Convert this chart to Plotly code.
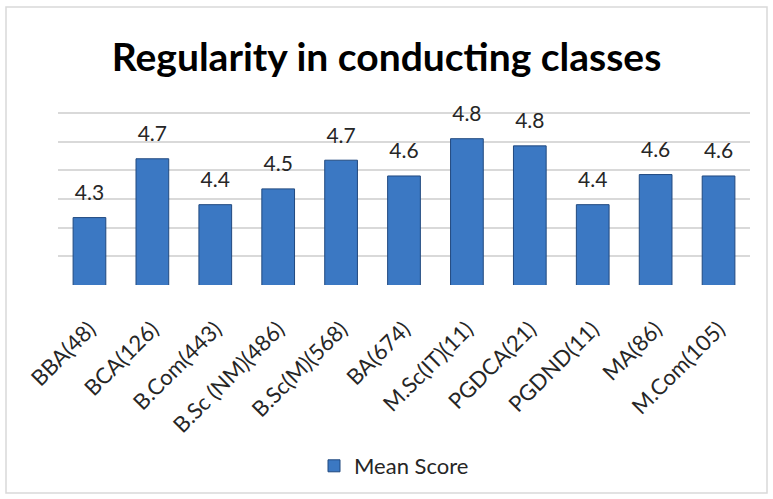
import plotly.graph_objects as go

categories = ["BBA(48)", "BCA(126)", "B.Com(443)", "B.Sc (NM)(486)", "B.Sc(M)(568)",
              "BA(674)", "M.Sc(IT)(11)", "PGDCA(21)", "PGDND(11)", "MA(86)", "M.Com(105)"]
mean_score = [4.27, 4.68, 4.36, 4.47, 4.67, 4.56, 4.82, 4.77, 4.36, 4.57, 4.56]
y_ticks = [3.8, 4.0, 4.2, 4.4, 4.6, 4.8, 5.0]

FONT = "Lato"

fig = go.Figure()
fig.add_trace(go.Bar(
    x=categories, y=mean_score, name="Mean Score",
    marker=dict(color="#3B78C3", line=dict(color="#21497F", width=1)),
    showlegend=True,
))
fig.add_trace(go.Scatter(
    x=categories, y=mean_score, mode="markers+text",
    text=[f"{v:.1f}" for v in mean_score], textposition="top center",
    textfont=dict(family=FONT, size=21, color="#262626"),
    marker=dict(size=18, opacity=0), showlegend=False, hoverinfo="skip",
    cliponaxis=False,
))

fig.update_layout(
    width=773, height=499,
    paper_bgcolor="white", plot_bgcolor="white",
    margin=dict(l=58, r=23, t=110, b=214, autoexpand=False),
    bargap=0.48,
    title=dict(text="<b>Regularity in conducting classes</b>", x=0.5, xanchor="center",
               y=1 - 57 / 499, yanchor="middle",
               font=dict(family=FONT, size=39, color="black")),
    font=dict(family=FONT, color="#262626"),
    legend=dict(orientation="h", x=0.5 - 10 / 692, xanchor="center", y=-(466 - 285) / 175,
                yanchor="middle", font=dict(family=FONT, size=22, color="#262626"),
                itemwidth=30),
    shapes=[dict(type="rect", xref="paper", yref="paper",
                 x0=-52 / 692, x1=1 + 17 / 692, y0=-(493 - 285) / 175, y1=1 + (110 - 7) / 175,
                 line=dict(color="#D9D9D9", width=1.5))],
)
fig.update_xaxes(range=[-0.5, len(categories) - 0.5], tickangle=-45,
                 tickfont=dict(family=FONT, size=22, color="#262626"),
                 ticklabelstandoff=26,
                 showline=False, ticks="", automargin=False)
fig.update_yaxes(range=[3.8, 5.02], tickvals=y_ticks, showticklabels=False,
                 showgrid=True, gridcolor="#D9D9D9", gridwidth=1.5, zeroline=False,
                 automargin=False)

fig.write_html("out.html", config={"displayModeBar": False},
               post_script="document.body.style.margin='0';")
